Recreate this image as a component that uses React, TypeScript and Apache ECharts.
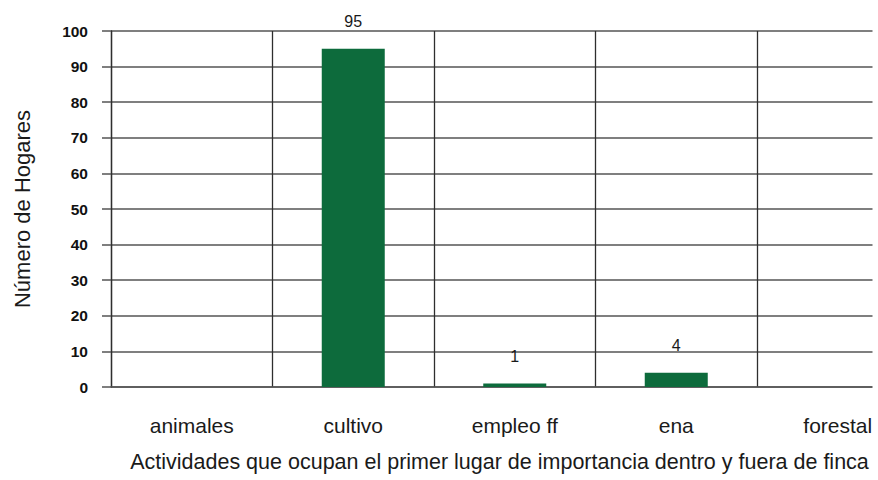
import React, { useEffect, useRef } from "react";
import * as echarts from "echarts";

const categories = ["animales", "cultivo", "empleo ff", "ena", "forestal"];
const hogares = [0, 95, 1, 4, 0];
const yTicks = { min: 0, max: 100, interval: 10 };
const yTitle = "Número de Hogares";
const xTitle = "Actividades que ocupan el primer lugar de importancia dentro y fuera de finca";

const FONT = "'Liberation Sans', Arial, sans-serif";

export default function App() {
  const ref = useRef<HTMLDivElement>(null);
  useEffect(() => {
    if (!ref.current) return;
    const chart = echarts.init(ref.current, null, { renderer: "svg" });
    chart.setOption({
      animation: false,
      backgroundColor: "#ffffff",
      textStyle: { fontFamily: FONT },
      grid: { left: 111, top: 31, width: 807.5, height: 356, containLabel: false },
      xAxis: {
        type: "category",
        data: categories,
        boundaryGap: true,
        axisLine: { show: true, lineStyle: { color: "#555555", width: 1.5 } },
        axisTick: { show: false },
        axisLabel: { fontSize: 21, color: "#1a1a1a", margin: 28, fontFamily: FONT, interval: 0 },
        splitLine: { show: true, interval: 0, lineStyle: { color: "#2e2e2e", width: 1.3 } },
      },
      yAxis: {
        type: "value",
        min: yTicks.min,
        max: yTicks.max,
        interval: yTicks.interval,
        name: yTitle,
        nameLocation: "middle",
        nameRotate: 90,
        nameGap: 78,
        nameTextStyle: { fontSize: 22, color: "#1a1a1a", fontFamily: FONT },
        axisLine: { show: true, lineStyle: { color: "#2e2e2e", width: 1.3 } },
        axisTick: { show: true, length: 9, inside: false, lineStyle: { color: "#555555", width: 1.5 } },
        axisLabel: { fontSize: 15.5, fontWeight: "bold", color: "#111111", margin: 23, fontFamily: FONT },
        splitLine: { show: true, lineStyle: { color: "#555555", width: 1.5 } },
      },
      series: [
        {
          type: "bar",
          data: hogares,
          barWidth: 63,
          itemStyle: { color: "#0d6b3c" },
          label: {
            show: true,
            position: "top",
            distance: 19,
            fontSize: 16,
            color: "#1a1a1a",
            fontFamily: FONT,
            formatter: (p: any) => (p.value ? String(p.value) : ""),
          },
          z: 3,
        },
      ],
      graphic: [
        {
          type: "rect",
          left: 872.5,
          top: 20,
          shape: { width: 60, height: 375 },
          style: { fill: "#ffffff" },
          z: 100,
        },
        {
          type: "text",
          x: 499.5,
          y: 451,
          style: {
            text: xTitle,
            fontSize: 21.5,
            fill: "#1a1a1a",
            fontFamily: FONT,
            textAlign: "center",
            textVerticalAlign: "top",
          },
          z: 101,
        },
      ],
    });
    return () => chart.dispose();
  }, []);
  return (
    <div
      style={{
        position: "absolute",
        left: 0,
        top: 0,
        width: 878,
        height: 480,
        overflow: "hidden",
        background: "#ffffff",
      }}
    >
      <div ref={ref} style={{ width: 920, height: 480 }} />
    </div>
  );
}
